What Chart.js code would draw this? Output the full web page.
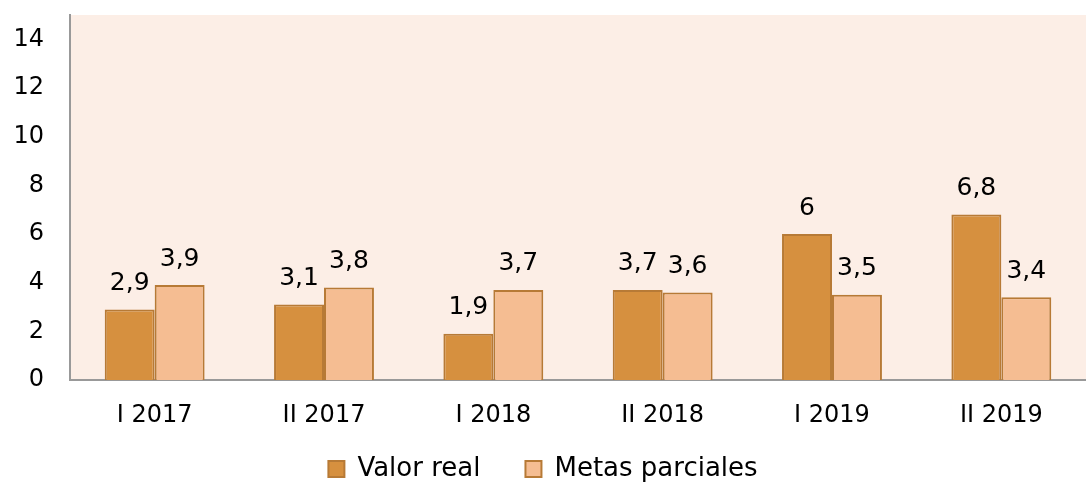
<!DOCTYPE html>
<html lang="es">
  <head>
    <meta charset="UTF-8" />
    <title>Valor real vs metas parciales</title>
    <script src="https://cdn.jsdelivr.net/npm/chart.js"></script>
    <style>
      body {
        margin: 0;
        background: #ffffff;
      }
      .wrap {
        width: 1086px;
        height: 483px;
      }
    </style>
  </head>
  <body>
    <div class="wrap"><canvas id="chart"></canvas></div>
    <script>
      const periods = ['I 2017', 'II 2017', 'I 2018', 'II 2018', 'I 2019', 'II 2019']
      const valorReal = [2.9, 3.1, 1.9, 3.7, 6, 6.8]
      const metasParciales = [3.9, 3.8, 3.7, 3.6, 3.5, 3.4]
      const yTicks = [0, 2, 4, 6, 8, 10, 12, 14]

      const FONT = 'DejaVu Sans, Verdana, sans-serif'

      // fondo del área de trazado
      const plotBg = {
        id: 'plotBg',
        beforeDraw(chart) {
          const { ctx, chartArea: a } = chart
          ctx.save()
          ctx.fillStyle = '#FCEEE6'
          ctx.fillRect(a.left, a.top, a.right - a.left, a.bottom - a.top)
          ctx.restore()
        },
      }

      // sube la leyenda un poco (el padding grande es para separar los items)
      const legendShift = {
        id: 'legendShift',
        afterLayout(chart) {
          chart.legend.top -= 21
          chart.legend.bottom -= 21
        },
      }

      // etiquetas de valores sobre las barras
      const valueLabels = {
        id: 'valueLabels',
        afterDatasetsDraw(chart) {
          const ctx = chart.ctx
          ctx.save()
          ctx.font = '25px ' + FONT
          ctx.fillStyle = '#000'
          ctx.textAlign = 'center'
          ctx.textBaseline = 'middle'
          chart.data.datasets.forEach((ds, i) => {
            chart.getDatasetMeta(i).data.forEach((bar, j) => {
              const txt = String(ds.data[j]).replace('.', ',')
              ctx.fillText(txt, bar.x, bar.y - 26)
            })
          })
          ctx.restore()
        },
      }

      new Chart(document.getElementById('chart'), {
        type: 'bar',
        data: {
          labels: periods,
          datasets: [
            {
              label: 'Valor real',
              data: valorReal,
              backgroundColor: '#D6903F',
              borderColor: '#B77A36',
              borderWidth: 2,
              borderSkipped: 'bottom',
            },
            {
              label: 'Metas parciales',
              data: metasParciales,
              backgroundColor: '#F5BD92',
              borderColor: '#B77A36',
              borderWidth: 2,
              borderSkipped: 'bottom',
            },
          ],
        },
        options: {
          responsive: true,
          maintainAspectRatio: false,
          animation: false,
          datasets: {
            bar: { categoryPercentage: 0.59, barPercentage: 1 },
          },
          layout: { padding: { top: 0, right: 0, left: 0, bottom: -30 } },
          plugins: {
            legend: {
              position: 'bottom',
              labels: {
                font: { family: FONT, size: 26 },
                color: '#000',
                boxWidth: 16,
                boxHeight: 16,
                padding: 45,
              },
            },
            tooltip: { enabled: false },
          },
          scales: {
            x: {
              afterFit(axis) {
                axis.height = 52
              },
              grid: { display: false, drawTicks: false },
              border: { color: '#999999', width: 2 },
              ticks: {
                font: { family: FONT, size: 24 },
                color: '#000',
                padding: 21,
              },
            },
            y: {
              min: 0,
              max: 15,
              afterBuildTicks(axis) {
                axis.ticks = yTicks.map((v) => ({ value: v }))
              },
              afterFit(axis) {
                axis.width = 70
                axis.paddingTop = 15
                axis.paddingBottom = 0
              },
              grid: { display: false, drawTicks: false },
              border: { color: '#999999', width: 2 },
              ticks: {
                font: { family: FONT, size: 24 },
                color: '#000',
                padding: 26,
              },
            },
          },
        },
        plugins: [plotBg, legendShift, valueLabels],
      })
    </script>
  </body>
</html>
